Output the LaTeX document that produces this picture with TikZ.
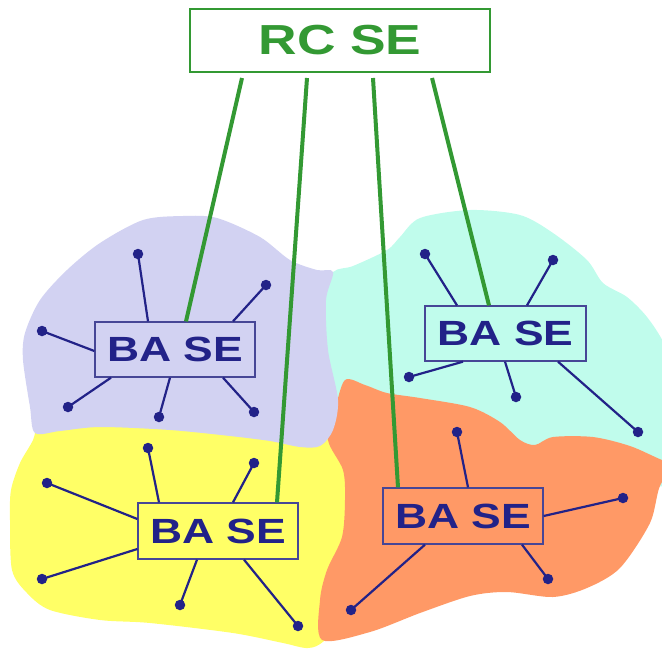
\documentclass[tikz,border=0pt]{standalone}
\usepackage{fontspec}
\setsansfont{Liberation Sans}
\definecolor{lav}{RGB}{210,210,242}
\definecolor{cya}{RGB}{192,252,236}
\definecolor{yel}{RGB}{255,255,102}
\definecolor{ora}{RGB}{255,153,102}
\definecolor{grn}{RGB}{51,153,51}
\definecolor{navy}{RGB}{34,34,136}
\definecolor{boxln}{RGB}{70,70,150}
\tikzset{
  rcbox/.style={draw=grn, line width=2pt, fill=white, minimum width=300pt, minimum height=63pt, inner sep=0pt,
    text=grn, font=\sffamily\bfseries\fontsize{42}{44}\selectfont},
  babox/.style={draw=boxln, line width=1.3pt, minimum width=160pt, minimum height=55pt, inner sep=0pt,
    text=navy, font=\sffamily\bfseries\fontsize{35}{38}\selectfont},
  link/.style={draw=grn, line width=4pt},
  spokeln/.style={draw=navy, line width=2.2pt},
  dot/.style={circle, fill=navy, minimum size=10.5pt, inner sep=0pt}
}
\newcommand{\wide}[1]{\scalebox{1.27}[1]{#1}}
\begin{document}
\begin{tikzpicture}[x=1pt,y=-1pt]
\useasboundingbox (0,0) rectangle (662,649);
\clip (0,0) rectangle (662,649);
% blobs
\fill[cya] plot[smooth cycle] coordinates {(333,272) (353,266) (387,250) (400,237) (420,218) (470,210) (520,215) (553,233) (587,260) (603,283) (627,297) (647,317) (665,345) (690,400) (690,480) (600,480) (450,440) (360,420) (312,400) (315,300)};
\fill[yel] plot[smooth cycle] coordinates {(40,418) (33,440) (20,463) (11,490) (10,520) (12,570) (27,593) (50,610) (100,620) (150,623) (233,633) (283,643) (308,648) (325,640) (360,600) (360,450) (300,420) (150,415) (60,415)};
\fill[ora] plot[smooth cycle] coordinates {(328,440) (335,410) (345,380) (365,385) (387,393) (420,398) (470,407) (500,422) (520,440) (535,445) (553,437) (593,437) (630,446) (662,460) (690,470) (662,482) (650,523) (620,568) (587,588) (553,597) (507,592) (470,596) (420,613) (370,632) (322,640) (320,600) (327,570) (342,537) (345,500) (343,470)};
\fill[lav] plot[smooth cycle] coordinates {(35,433) (30,407) (23,360) (25,333) (40,300) (67,270) (100,243) (143,220) (183,216) (217,218) (260,237) (290,260) (317,270) (333,272) (326,300) (328,350) (338,400) (333,430) (320,446) (300,447) (270,441) (230,436) (170,430) (100,427) (60,431)};
% boxes
\node[rcbox] (rc) at (340,40.5) {\wide{RC SE}};
\node[babox, fill=lav] (ba1) at (175,349.5) {\wide{BA SE}};
\node[babox, fill=cya, minimum width=161pt] (ba2) at (505.5,333.5) {\wide{BA SE}};
\node[babox, fill=yel, minimum height=56pt] (ba3) at (218,531) {\wide{BA SE}};
\node[babox, fill=ora, minimum height=56pt] (ba4) at (463,516) {\wide{BA SE}};
% dots
\node[dot] (a1) at (138,254) {};
\node[dot] (a2) at (266,285) {};
\node[dot] (a3) at (42,331) {};
\node[dot] (a4) at (68,407) {};
\node[dot] (a5) at (159,417) {};
\node[dot] (a6) at (254,412) {};
\node[dot] (b1) at (425,254) {};
\node[dot] (b2) at (553,260) {};
\node[dot] (b3) at (409,377) {};
\node[dot] (b4) at (516,397) {};
\node[dot] (b5) at (638,432) {};
\node[dot] (c1) at (148,448) {};
\node[dot] (c2) at (254,463) {};
\node[dot] (c3) at (47,483) {};
\node[dot] (c4) at (42,579) {};
\node[dot] (c5) at (180,605) {};
\node[dot] (c6) at (298,626) {};
\node[dot] (e1) at (457,432) {};
\node[dot] (e2) at (623,498) {};
\node[dot] (e3) at (351,610) {};
\node[dot] (e4) at (548,579) {};
% spokes
\draw[spokeln] (a1.center) -- ([xshift=-27pt]ba1.north);
\draw[spokeln] (a2.center) -- ([xshift=58pt]ba1.north);
\draw[spokeln] (a3.center) -- ([yshift=-1.5pt]ba1.west);
\draw[spokeln] (a4.center) -- ([xshift=-64pt]ba1.south);
\draw[spokeln] (a5.center) -- ([xshift=-5pt]ba1.south);
\draw[spokeln] (a6.center) -- ([xshift=48pt]ba1.south);
\draw[spokeln] (b1.center) -- ([xshift=-48.5pt]ba2.north);
\draw[spokeln] (b2.center) -- ([xshift=21.5pt]ba2.north);
\draw[spokeln] (b3.center) -- ([xshift=-42.5pt]ba2.south);
\draw[spokeln] (b4.center) -- ([xshift=-0.5pt]ba2.south);
\draw[spokeln] (b5.center) -- ([xshift=52.5pt]ba2.south);
\draw[spokeln] (c1.center) -- ([xshift=-59pt]ba3.north);
\draw[spokeln] (c2.center) -- ([xshift=15pt]ba3.north);
\draw[spokeln] (c3.center) -- ([yshift=12pt]ba3.west);
\draw[spokeln] (c4.center) -- ([yshift=-18pt]ba3.west);
\draw[spokeln] (c5.center) -- ([xshift=-21pt]ba3.south);
\draw[spokeln] (c6.center) -- ([xshift=26pt]ba3.south);
\draw[spokeln] (e1.center) -- ([xshift=5pt]ba4.north);
\draw[spokeln] (e2.center) -- (ba4.east);
\draw[spokeln] (e3.center) -- ([xshift=-38pt]ba4.south);
\draw[spokeln] (e4.center) -- ([xshift=59pt]ba4.south);
% links
\draw[link] ([xshift=-98pt,yshift=-5pt]rc.south) -- ([xshift=11pt]ba1.north);
\draw[link] ([xshift=-33pt,yshift=-5pt]rc.south) -- ([xshift=59pt]ba3.north);
\draw[link] ([xshift=33pt,yshift=-5pt]rc.south) -- ([xshift=-65pt]ba4.north);
\draw[link] ([xshift=92pt,yshift=-5pt]rc.south) -- ([xshift=-16.5pt]ba2.north);
\end{tikzpicture}
\end{document}
